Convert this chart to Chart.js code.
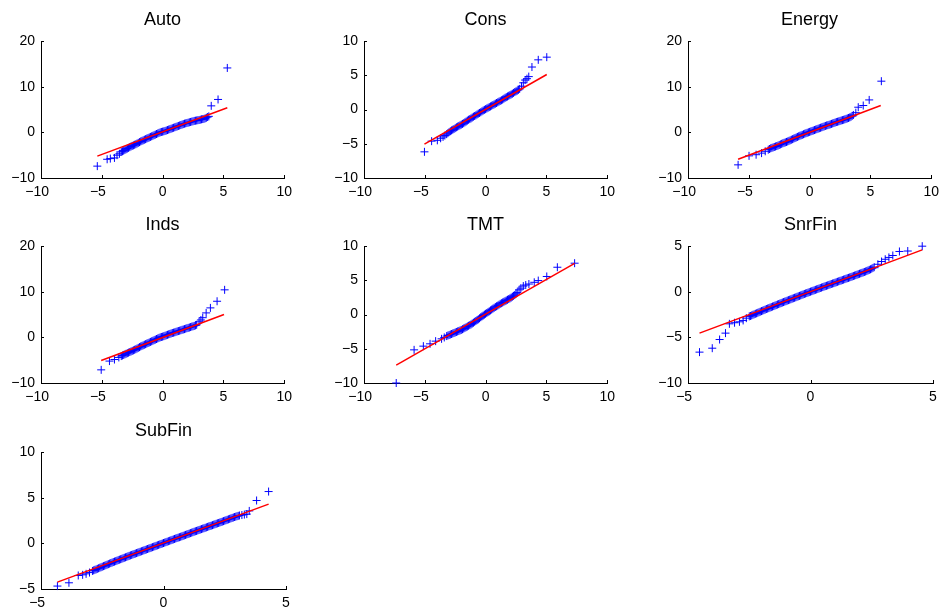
<!DOCTYPE html>
<html><head><meta charset="utf-8">
<script src="https://cdn.jsdelivr.net/npm/chart.js@4/dist/chart.umd.min.js"></script>
<style>
html,body{margin:0;padding:0;background:#fff;overflow:hidden;width:942px;height:608px;position:relative}
canvas{position:absolute}
</style></head><body>
<script>
// ---- titles ----
const panelTitles = ['Auto', 'Cons', 'Energy', 'Inds', 'TMT', 'SnrFin', 'SubFin'];

// ---- tick values ----
const ticksX10 = [-10, -5, 0, 5, 10];
const ticksX5 = [-5, 0, 5];
const ticksY20 = [-10, 0, 10, 20];
const ticksY10 = [-10, -5, 0, 5, 10];
const ticksY5top = [-10, -5, 0, 5];
const ticksY10low = [-5, 0, 5, 10];

// ---- Auto ----
const autoLowX = [-5.37,-4.56,-4.3,-3.96,-3.75,-3.55];
const autoLowY = [-7.4,-5.9,-5.75,-5.6,-5.0,-4.7];
const autoBandX = [-3.4,-3.3,-3.2,-3.1,-3.0,-2.9,-2.8,-2.7,-2.6,-2.5,
 -2.4,-2.3,-2.2,-2.1,-2.0,-1.9,-1.8,-1.7,-1.6,-1.5,
 -1.4,-1.3,-1.2,-1.1,-1.0,-0.9,-0.8,-0.7,-0.6,-0.5,
 -0.4,-0.3,-0.2,-0.1,0,0.1,0.2,0.3,0.4,0.5,
 0.6,0.7,0.8,0.9,1.0,1.1,1.2,1.3,1.4,1.5,
 1.6,1.7,1.8,1.9,2.0,2.1,2.2,2.3,2.4,2.5,
 2.6,2.7,2.8,2.9,3.0,3.1,3.2,3.3,3.4,3.5,
 3.6,3.7,3.8];
const autoBandY = [-4.3,-4.15,-4.0,-3.85,-3.7,-3.55,-3.4,-3.25,-3.1,-2.97,
 -2.85,-2.72,-2.6,-2.45,-2.3,-2.15,-2.0,-1.87,-1.75,-1.62,
 -1.5,-1.37,-1.25,-1.12,-1.0,-0.87,-0.75,-0.62,-0.5,-0.37,
 -0.25,-0.12,0.0,0.08,0.15,0.22,0.3,0.4,0.5,0.6,
 0.7,0.8,0.9,1.0,1.1,1.2,1.3,1.4,1.5,1.6,
 1.7,1.8,1.9,1.97,2.05,2.12,2.2,2.27,2.35,2.42,
 2.5,2.55,2.6,2.65,2.7,2.77,2.85,2.9,2.95,3.07,
 3.2,3.35,3.5];
const autoHighX = [4.0,4.56,5.32];
const autoHighY = [5.8,7.2,14.1];
const autoLineX = [-5.37, 5.32];
const autoLineY = [-5.2, 5.37];

// ---- Cons ----
const consLowX = [-5.03,-4.44,-3.97,-3.7,-3.5,-3.35];
const consLowY = [-6.18,-4.62,-4.5,-4.2,-4.0,-3.8];
const consBandX = [-3.2,-3.1,-3.0,-2.9,-2.8,-2.7,-2.6,-2.5,-2.4,-2.3,
 -2.2,-2.1,-2.0,-1.9,-1.8,-1.7,-1.6,-1.5,-1.4,-1.3,
 -1.2,-1.1,-1.0,-0.9,-0.8,-0.7,-0.6,-0.5,-0.4,-0.3,
 -0.2,-0.1,0,0.1,0.2,0.3,0.4,0.5,0.6,0.7,
 0.8,0.9,1.0,1.1,1.2,1.3,1.4,1.5,1.6,1.7,
 1.8,1.9,2.0,2.1,2.2,2.3,2.4,2.5,2.6,2.7,
 2.8];
const consBandY = [-3.6,-3.45,-3.3,-3.17,-3.05,-2.95,-2.85,-2.72,-2.6,-2.5,
 -2.4,-2.3,-2.2,-2.1,-2.0,-1.87,-1.75,-1.62,-1.5,-1.4,
 -1.3,-1.17,-1.05,-0.95,-0.85,-0.72,-0.6,-0.5,-0.4,-0.27,
 -0.15,-0.05,0.05,0.15,0.25,0.35,0.45,0.55,0.65,0.75,
 0.85,0.95,1.05,1.15,1.25,1.35,1.45,1.57,1.7,1.8,
 1.9,2.0,2.1,2.2,2.3,2.42,2.55,2.65,2.75,2.87,
 3.0];
const consHighX = [2.95,3.1,3.25,3.4,3.55,3.81,4.33,5.03];
const consHighY = [3.4,3.9,4.3,4.5,4.8,6.2,7.25,7.64];
const consLineX = [-5.03, 5.03];
const consLineY = [-5.06, 5.11];

// ---- Energy ----
const energyLowX = [-5.88,-4.98,-4.4,-3.95,-3.65];
const energyLowY = [-7.12,-5.15,-4.9,-4.55,-4.15];
const energyBandX = [-3.4,-3.3,-3.2,-3.1,-3.0,-2.9,-2.8,-2.7,-2.6,-2.5,
 -2.4,-2.3,-2.2,-2.1,-2.0,-1.9,-1.8,-1.7,-1.6,-1.5,
 -1.4,-1.3,-1.2,-1.1,-1.0,-0.9,-0.8,-0.7,-0.6,-0.5,
 -0.4,-0.3,-0.2,-0.1,0,0.1,0.2,0.3,0.4,0.5,
 0.6,0.7,0.8,0.9,1.0,1.1,1.2,1.3,1.4,1.5,
 1.6,1.7,1.8,1.9,2.0,2.1,2.2,2.3,2.4,2.5,
 2.6,2.7,2.8,2.9,3.0,3.1,3.2,3.3,3.4,3.5,
 3.6];
const energyBandY = [-3.8,-3.65,-3.5,-3.4,-3.3,-3.2,-3.1,-3.0,-2.9,-2.77,
 -2.65,-2.52,-2.4,-2.3,-2.2,-2.1,-2.0,-1.87,-1.75,-1.62,
 -1.5,-1.37,-1.25,-1.12,-1.0,-0.87,-0.75,-0.65,-0.55,-0.42,
 -0.3,-0.2,-0.1,0.0,0.1,0.2,0.3,0.4,0.5,0.6,
 0.7,0.8,0.9,1.0,1.1,1.2,1.3,1.4,1.5,1.57,
 1.65,1.75,1.85,1.95,2.05,2.15,2.25,2.32,2.4,2.5,
 2.6,2.67,2.75,2.85,2.95,3.05,3.15,3.27,3.4,3.6,
 3.8];
const energyHighX = [3.8,4.0,4.41,4.9,5.9];
const energyHighY = [4.3,5.5,5.87,7.1,11.2];
const energyLineX = [-5.88, 5.85];
const energyLineY = [-5.88, 5.87];

// ---- Inds ----
const indsLowX = [-5.05,-4.37,-3.96,-3.6];
const indsLowY = [-7.12,-5.2,-4.86,-4.4];
const indsBandX = [-3.4,-3.3,-3.2,-3.1,-3.0,-2.9,-2.8,-2.7,-2.6,-2.5,
 -2.4,-2.3,-2.2,-2.1,-2.0,-1.9,-1.8,-1.7,-1.6,-1.5,
 -1.4,-1.3,-1.2,-1.1,-1.0,-0.9,-0.8,-0.7,-0.6,-0.5,
 -0.4,-0.3,-0.2,-0.1,0,0.1,0.2,0.3,0.4,0.5,
 0.6,0.7,0.8,0.9,1.0,1.1,1.2,1.3,1.4,1.5,
 1.6,1.7,1.8,1.9,2.0,2.1,2.2,2.3,2.4,2.5,
 2.6,2.7,2.8];
const indsBandY = [-4.1,-3.97,-3.85,-3.72,-3.6,-3.47,-3.35,-3.22,-3.1,-2.97,
 -2.85,-2.72,-2.6,-2.45,-2.3,-2.15,-2.0,-1.87,-1.75,-1.62,
 -1.5,-1.37,-1.25,-1.12,-1.0,-0.87,-0.75,-0.62,-0.5,-0.37,
 -0.25,-0.12,0.0,0.08,0.15,0.25,0.35,0.45,0.55,0.65,
 0.75,0.85,0.95,1.02,1.1,1.2,1.3,1.37,1.45,1.55,
 1.65,1.72,1.8,1.9,2.0,2.07,2.15,2.25,2.35,2.42,
 2.5,2.62,2.75];
const indsHighX = [3.0,3.15,3.3,3.58,3.93,4.48,5.1];
const indsHighY = [3.4,3.8,4.3,5.35,6.45,7.9,10.4];
const indsLineX = [-5.05, 5.05];
const indsLineY = [-5.08, 5.0];

// ---- TMT ----
const tmtLowX = [-7.35,-5.88,-5.12,-4.57,-4.11,-3.62,-3.4];
const tmtLowY = [-10.0,-5.16,-4.62,-4.28,-3.89,-3.55,-3.35];
const tmtBandX = [-3.2,-3.1,-3.0,-2.9,-2.8,-2.7,-2.6,-2.5,-2.4,-2.3,
 -2.2,-2.1,-2.0,-1.9,-1.8,-1.7,-1.6,-1.5,-1.4,-1.3,
 -1.2,-1.1,-1.0,-0.9,-0.8,-0.7,-0.6,-0.5,-0.4,-0.3,
 -0.2,-0.1,0,0.1,0.2,0.3,0.4,0.5,0.6,0.7,
 0.8,0.9,1.0,1.1,1.2,1.3,1.4,1.5,1.6,1.7,
 1.8,1.9,2.0,2.1,2.2,2.3,2.4,2.5,2.6];
const tmtBandY = [-3.15,-3.07,-3.0,-2.92,-2.85,-2.77,-2.7,-2.62,-2.55,-2.47,
 -2.4,-2.32,-2.25,-2.15,-2.05,-1.95,-1.85,-1.75,-1.65,-1.55,
 -1.45,-1.32,-1.2,-1.07,-0.95,-0.82,-0.7,-0.55,-0.4,-0.27,
 -0.15,-0.02,0.1,0.22,0.35,0.47,0.6,0.72,0.85,0.97,
 1.1,1.2,1.3,1.42,1.55,1.65,1.75,1.85,1.95,2.05,
 2.15,2.25,2.35,2.47,2.6,2.72,2.85,3.02,3.2];
const tmtHighX = [2.75,2.9,3.1,3.3,3.56,4.0,4.33,5.03,5.9,7.32];
const tmtHighY = [3.6,3.85,4.15,4.3,4.45,4.7,4.95,5.55,6.9,7.49];
const tmtLineX = [-7.35, 7.32];
const tmtLineY = [-7.4, 7.45];

// ---- SnrFin ----
const snrLowX = [-4.53,-4.01,-3.71,-3.47,-3.31,-3.1,-2.9,-2.75,-2.62];
const snrLowY = [-6.62,-6.19,-5.24,-4.54,-3.52,-3.4,-3.3,-3.15,-2.9];
const snrBandX = [-2.5,-2.45,-2.4,-2.35,-2.3,-2.25,-2.2,-2.15,-2.1,-2.05,
 -2.0,-1.95,-1.9,-1.85,-1.8,-1.75,-1.7,-1.65,-1.6,-1.55,
 -1.5,-1.45,-1.4,-1.35,-1.3,-1.25,-1.2,-1.15,-1.1,-1.05,
 -1.0,-0.95,-0.9,-0.85,-0.8,-0.75,-0.7,-0.65,-0.6,-0.55,
 -0.5,-0.45,-0.4,-0.35,-0.3,-0.25,-0.2,-0.15,-0.1,-0.05,
 0,0.05,0.1,0.15,0.2,0.25,0.3,0.35,0.4,0.45,
 0.5,0.55,0.6,0.65,0.7,0.75,0.8,0.85,0.9,0.95,
 1.0,1.05,1.1,1.15,1.2,1.25,1.3,1.35,1.4,1.45,
 1.5,1.55,1.6,1.65,1.7,1.75,1.8,1.85,1.9,1.95,
 2.0,2.05,2.1,2.15,2.2,2.25,2.3,2.35,2.4,2.45,
 2.5,2.55,2.6];
const snrBandY = [-2.7,-2.66,-2.6,-2.53,-2.48,-2.42,-2.37,-2.31,-2.25,-2.19,
 -2.13,-2.08,-2.02,-1.96,-1.9,-1.85,-1.8,-1.74,-1.69,-1.63,
 -1.58,-1.52,-1.47,-1.41,-1.36,-1.3,-1.25,-1.19,-1.14,-1.09,
 -1.04,-0.98,-0.93,-0.88,-0.83,-0.77,-0.72,-0.67,-0.62,-0.56,
 -0.51,-0.46,-0.41,-0.35,-0.3,-0.25,-0.2,-0.15,-0.1,-0.05,
 0,0.05,0.1,0.15,0.2,0.25,0.3,0.35,0.4,0.45,
 0.5,0.55,0.6,0.64,0.69,0.74,0.79,0.84,0.89,0.93,
 0.98,1.03,1.08,1.13,1.18,1.22,1.27,1.32,1.37,1.42,
 1.47,1.51,1.56,1.61,1.66,1.71,1.76,1.81,1.86,1.91,
 1.96,2.01,2.06,2.11,2.16,2.21,2.27,2.33,2.39,2.45,
 2.52,2.6,2.68];
const snrHighX = [2.75,2.9,3.05,3.2,3.36,3.63,3.97,4.56];
const snrHighY = [3.0,3.3,3.55,3.75,3.96,4.4,4.45,4.98];
const snrLineX = [-4.53, 4.56];
const snrLineY = [-4.54, 4.58];

// ---- SubFin ----
const subLowX = [-4.33,-3.86,-3.48,-3.3,-3.16,-3.02];
const subLowY = [-4.68,-4.32,-3.52,-3.45,-3.34,-3.2];
const subBandX = [-2.9,-2.85,-2.8,-2.75,-2.7,-2.65,-2.6,-2.55,-2.5,-2.45,
 -2.4,-2.35,-2.3,-2.25,-2.2,-2.15,-2.1,-2.05,-2.0,-1.95,
 -1.9,-1.85,-1.8,-1.75,-1.7,-1.65,-1.6,-1.55,-1.5,-1.45,
 -1.4,-1.35,-1.3,-1.25,-1.2,-1.15,-1.1,-1.05,-1.0,-0.95,
 -0.9,-0.85,-0.8,-0.75,-0.7,-0.65,-0.6,-0.55,-0.5,-0.45,
 -0.4,-0.35,-0.3,-0.25,-0.2,-0.15,-0.1,-0.05,0,0.05,
 0.1,0.15,0.2,0.25,0.3,0.35,0.4,0.45,0.5,0.55,
 0.6,0.65,0.7,0.75,0.8,0.85,0.9,0.95,1.0,1.05,
 1.1,1.15,1.2,1.25,1.3,1.35,1.4,1.45,1.5,1.55,
 1.6,1.65,1.7,1.75,1.8,1.85,1.9,1.95,2.0,2.05,
 2.1,2.15,2.2,2.25,2.3,2.35,2.4,2.45,2.5,2.55,
 2.6,2.65,2.7,2.75,2.8,2.85,2.9,2.95,3.0,3.05,
 3.1];
const subBandY = [-3.02,-2.96,-2.9,-2.85,-2.79,-2.73,-2.67,-2.62,-2.56,-2.5,
 -2.45,-2.39,-2.33,-2.28,-2.22,-2.16,-2.11,-2.05,-2.0,-1.95,
 -1.9,-1.84,-1.79,-1.74,-1.69,-1.63,-1.58,-1.53,-1.48,-1.42,
 -1.37,-1.32,-1.27,-1.22,-1.17,-1.12,-1.07,-1.02,-0.97,-0.92,
 -0.87,-0.82,-0.77,-0.72,-0.67,-0.62,-0.57,-0.52,-0.47,-0.42,
 -0.37,-0.32,-0.27,-0.22,-0.17,-0.12,-0.07,-0.02,0.03,0.08,
 0.13,0.18,0.23,0.28,0.33,0.38,0.43,0.48,0.53,0.58,
 0.63,0.67,0.72,0.77,0.82,0.87,0.92,0.97,1.02,1.07,
 1.12,1.17,1.22,1.27,1.32,1.36,1.41,1.46,1.51,1.56,
 1.61,1.65,1.7,1.75,1.8,1.85,1.9,1.94,1.99,2.04,
 2.09,2.14,2.19,2.23,2.28,2.33,2.38,2.43,2.48,2.53,
 2.58,2.63,2.68,2.73,2.78,2.83,2.88,2.92,2.97,3.01,
 3.05];
const subHighX = [3.2,3.3,3.4,3.5,3.8,4.29];
const subHighY = [3.1,3.15,3.2,3.55,4.69,5.67];
const subLineX = [-4.33, 4.29];
const subLineY = [-4.25, 4.29];

// ---- layout ----
const FONT = '"Liberation Sans", Arial, Helvetica, sans-serif';
const PLOT_W = 245, PLOT_H = 137, LEFT_W = 41, TOP_H = 36, BOTTOM_H = 22, RIGHT_PAD = 12;
const COLS = [41, 364, 688], ROWS = [41, 246, 452];

const panels = [
  {t: panelTitles[0], c: 0, r: 0, qx: [autoLowX, autoBandX, autoHighX], qy: [autoLowY, autoBandY, autoHighY], lx: autoLineX, ly: autoLineY, xt: ticksX10, yt: ticksY20},
  {t: panelTitles[1], c: 1, r: 0, qx: [consLowX, consBandX, consHighX], qy: [consLowY, consBandY, consHighY], lx: consLineX, ly: consLineY, xt: ticksX10, yt: ticksY10},
  {t: panelTitles[2], c: 2, r: 0, qx: [energyLowX, energyBandX, energyHighX], qy: [energyLowY, energyBandY, energyHighY], lx: energyLineX, ly: energyLineY, xt: ticksX10, yt: ticksY20},
  {t: panelTitles[3], c: 0, r: 1, qx: [indsLowX, indsBandX, indsHighX], qy: [indsLowY, indsBandY, indsHighY], lx: indsLineX, ly: indsLineY, xt: ticksX10, yt: ticksY20},
  {t: panelTitles[4], c: 1, r: 1, qx: [tmtLowX, tmtBandX, tmtHighX], qy: [tmtLowY, tmtBandY, tmtHighY], lx: tmtLineX, ly: tmtLineY, xt: ticksX10, yt: ticksY10},
  {t: panelTitles[5], c: 2, r: 1, qx: [snrLowX, snrBandX, snrHighX], qy: [snrLowY, snrBandY, snrHighY], lx: snrLineX, ly: snrLineY, xt: ticksX5, yt: ticksY5top},
  {t: panelTitles[6], c: 0, r: 2, qx: [subLowX, subBandX, subHighX], qy: [subLowY, subBandY, subHighY], lx: subLineX, ly: subLineY, xt: ticksX5, yt: ticksY10low}
];

const MINUS = '\u2212';
const fmtY = v => v < 0 ? MINUS + Math.abs(v) : String(v);
const fmtX = v => v < 0 ? MINUS + Math.abs(v) + '\u2007' : String(v);

const inTicks = {
  id: 'inTicks',
  afterDraw(chart) {
    const {ctx, chartArea: a, scales} = chart;
    ctx.save();
    ctx.strokeStyle = '#000';
    ctx.lineWidth = 1;
    ctx.beginPath();
    scales.x.ticks.forEach(t => {
      const px = Math.round(scales.x.getPixelForValue(t.value)) + 0.5;
      ctx.moveTo(px, a.bottom); ctx.lineTo(px, a.bottom - 3);
    });
    scales.y.ticks.forEach(t => {
      const py = Math.round(scales.y.getPixelForValue(t.value)) + 0.5;
      ctx.moveTo(a.left, py); ctx.lineTo(a.left + 3, py);
    });
    ctx.stroke();
    ctx.restore();
  }
};

panels.forEach(p => {
  const xs = [].concat(...p.qx), ys = [].concat(...p.qy);
  const cv = document.createElement('canvas');
  cv.width = LEFT_W + PLOT_W + RIGHT_PAD;
  cv.height = TOP_H + PLOT_H + BOTTOM_H;
  cv.style.width = cv.width + 'px';
  cv.style.height = cv.height + 'px';
  cv.style.left = (COLS[p.c] - LEFT_W) + 'px';
  cv.style.top = (ROWS[p.r] - TOP_H) + 'px';
  document.body.appendChild(cv);
  new Chart(cv, {
    type: 'scatter',
    data: {
      datasets: [
        {type: 'line', data: p.lx.map((x, i) => ({x, y: p.ly[i]})), borderColor: '#ff0000',
         borderWidth: 1.5, pointRadius: 0, fill: false, clip: false, order: 0, tension: 0},
        {type: 'scatter', data: xs.map((x, i) => ({x, y: ys[i]})), pointStyle: 'cross',
         pointRadius: 4, borderColor: '#0000ff', backgroundColor: '#0000ff', borderWidth: 1,
         pointBorderWidth: 1, clip: false, order: 1}
      ]
    },
    options: {
      responsive: false, animation: false, devicePixelRatio: 1,
      layout: {padding: {left: 0, top: 0, bottom: 0, right: RIGHT_PAD}},
      plugins: {
        legend: {display: false}, tooltip: {enabled: false},
        title: {display: true, text: p.t, color: '#000', fullSize: false,
          font: {family: FONT, size: 18, weight: 'normal', lineHeight: 1.2},
          padding: {top: 4, bottom: 10.4}}
      },
      scales: {
        x: {type: 'linear', position: 'bottom', min: p.xt[0], max: p.xt[p.xt.length - 1],
          afterBuildTicks: s => { s.ticks = p.xt.map(v => ({value: v})); },
          afterFit: s => { s.height = BOTTOM_H; },
          grid: {display: false, drawTicks: false},
          border: {display: true, color: '#000', width: 1},
          ticks: {color: '#000', font: {family: FONT, size: 14}, padding: 6, maxRotation: 0,
            autoSkip: false, callback: v => fmtX(v)}},
        y: {type: 'linear', position: 'left', min: p.yt[0], max: p.yt[p.yt.length - 1],
          afterBuildTicks: s => { s.ticks = p.yt.map(v => ({value: v})); },
          afterFit: s => { s.width = LEFT_W; },
          grid: {display: false, drawTicks: false},
          border: {display: true, color: '#000', width: 1},
          ticks: {color: '#000', font: {family: FONT, size: 14}, padding: 6,
            autoSkip: false, callback: v => fmtY(v)}}
      }
    },
    plugins: [inTicks]
  });
});
</script>
</body></html>
